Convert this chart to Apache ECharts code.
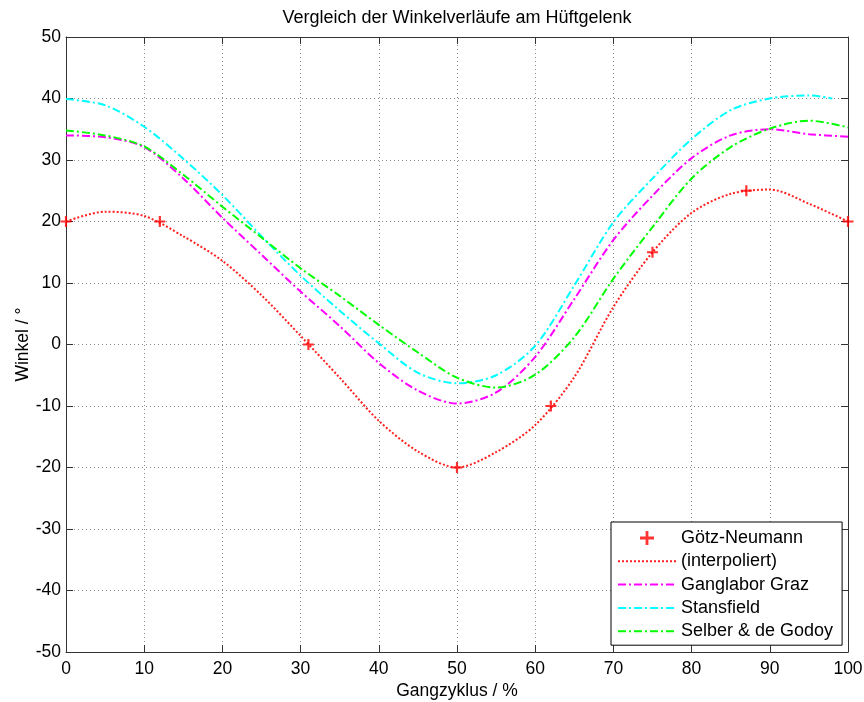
<!DOCTYPE html>
<html>
<head>
<meta charset="utf-8">
<script src="https://cdn.jsdelivr.net/npm/echarts@6/dist/echarts.min.js"></script>
<style>
  html, body { margin: 0; padding: 0; background: #fff; }
  #chart { width: 864px; height: 702px; }
</style>
</head>
<body>
<div id="chart"></div>
<script>
// Gait cycle positions (% of cycle) at which the curves are sampled
const gangzyklus = [0, 5, 10, 15, 20, 25, 30, 35, 40, 45, 50, 55, 60, 65, 70, 75, 80, 85, 90, 95, 100];
const stansfieldX = [0, 5, 10, 15, 20, 25, 30, 35, 40, 45, 50, 55, 60, 65, 70, 75, 80, 85, 90, 95, 98];

// Götz-Neumann reference points
const goetzX = [0, 12, 31, 50, 62, 75, 87, 100];
const goetzY = [20, 20, 0, -20, -10, 15, 25, 20];

// Interpolated Götz-Neumann curve
const interpoliert = [20, 21.6, 20.9, 17.6, 13.6, 8.0, 1.4, -5.4, -12.4, -17.4, -20, -17.5, -13.1, -5.3, 6.1, 15.0, 21.4, 24.5, 25.2, 22.9, 20];
// Ganglabor Graz
const graz = [34.0, 33.7, 32.1, 27.0, 20.6, 14.6, 8.6, 3.0, -3.0, -7.5, -9.6, -7.8, -2.0, 7.4, 17.0, 24.2, 30.3, 34.0, 35.0, 34.2, 33.8];
// Stansfield
const stansfield = [39.9, 38.9, 35.4, 30.2, 24.3, 17.6, 11.2, 5.5, 0.2, -4.6, -6.3, -5.0, -0.2, 9.6, 19.9, 27.0, 33.4, 38.1, 40.0, 40.5, 40.0];
// Selber & de Godoy
const selber = [34.8, 34.0, 32.2, 27.6, 22.4, 17.4, 12.4, 7.9, 3.2, -1.3, -5.4, -7.0, -4.9, 1.2, 10.7, 19.1, 27.0, 32.1, 35.1, 36.4, 35.3];

const FONT = "'Liberation Sans', Arial, Helvetica, sans-serif";
const zip = (xs, ys) => xs.map((x, i) => [x, ys[i]]);

const plusPath = 'path://M4,0H6V4H10V6H6V10H4V6H0V4H4Z';
const dashDot = [8, 3, 2, 3];
const SMOOTH = 0.3;

const axisCommon = {
  type: 'value',
  axisLine: { show: true, onZero: false, lineStyle: { color: '#333', width: 1 } },
  axisTick: { show: true, inside: true, length: 7, lineStyle: { color: '#333' } }
};
const gridLine = { show: true, lineStyle: { color: '#8a8a8a', width: 1, type: [1, 3] } };
const labelFont = { color: '#000', fontFamily: FONT, fontSize: 17.5 };

// legend entries for the curves show only the line, no marker
const lineOnly = { opacity: 0 };

const chart = echarts.init(document.getElementById('chart'), null, { renderer: 'canvas' });

chart.setOption({
  backgroundColor: '#fff',
  animation: false,
  textStyle: { fontFamily: FONT },
  graphic: [{
    type: 'text',
    x: 457, y: 18,
    style: {
      text: 'Vergleich der Winkelverläufe am Hüftgelenk',
      fontFamily: FONT, fontSize: 18, fill: '#000',
      align: 'center', verticalAlign: 'middle'
    }
  }],
  grid: { left: 66, right: 16, top: 37, bottom: 50, containLabel: false, outerBoundsMode: 'none' },
  xAxis: [
    Object.assign({}, axisCommon, {
      min: 0, max: 100, interval: 10, position: 'bottom',
      name: 'Gangzyklus / %', nameLocation: 'middle', nameGap: 30, nameMoveOverlap: false,
      nameTextStyle: labelFont,
      axisLabel: Object.assign({ margin: 8 }, labelFont),
      splitLine: gridLine
    }),
    Object.assign({}, axisCommon, {
      min: 0, max: 100, interval: 10, position: 'top',
      axisLabel: { show: false }, splitLine: { show: false }
    })
  ],
  yAxis: [
    Object.assign({}, axisCommon, {
      min: -50, max: 50, interval: 10, position: 'left',
      name: 'Winkel / °', nameLocation: 'middle', nameGap: 34, nameMoveOverlap: false,
      nameTextStyle: labelFont,
      axisLabel: Object.assign({ margin: 5 }, labelFont),
      splitLine: gridLine
    }),
    Object.assign({}, axisCommon, {
      min: -50, max: 50, interval: 10, position: 'right',
      axisLabel: { show: false }, splitLine: { show: false }
    })
  ],
  legend: {
    orient: 'vertical',
    left: 611, top: 522,
    itemWidth: 58, itemHeight: 14, itemGap: 5.3,
    padding: [7, 9, 5, 6],
    backgroundColor: '#fff',
    borderColor: '#000', borderWidth: 1, borderRadius: 0,
    textStyle: { fontFamily: FONT, fontSize: 18, color: '#000', lineHeight: 18 },
    symbolKeepAspect: true,
    data: [
      { name: 'Götz-Neumann', icon: plusPath },
      { name: '(interpoliert)', itemStyle: lineOnly },
      { name: 'Ganglabor Graz', itemStyle: lineOnly },
      { name: 'Stansfield', itemStyle: lineOnly },
      { name: 'Selber & de Godoy', itemStyle: lineOnly }
    ]
  },
  series: [
    {
      name: 'Götz-Neumann', type: 'scatter',
      data: zip(goetzX, goetzY),
      symbol: plusPath, symbolSize: 11, symbolKeepAspect: true,
      itemStyle: { color: '#ff0000' }, z: 3
    },
    {
      name: '(interpoliert)', type: 'line', smooth: SMOOTH, symbol: 'none',
      data: zip(gangzyklus, interpoliert),
      lineStyle: { color: '#ff2020', width: 2, type: [2, 2] },
      itemStyle: { color: '#ff2020' }, z: 2
    },
    {
      name: 'Ganglabor Graz', type: 'line', smooth: SMOOTH, symbol: 'none',
      data: zip(gangzyklus, graz),
      lineStyle: { color: '#ff00ff', width: 2, type: dashDot },
      itemStyle: { color: '#ff00ff' }, z: 4
    },
    {
      name: 'Stansfield', type: 'line', smooth: SMOOTH, symbol: 'none',
      data: zip(stansfieldX, stansfield),
      lineStyle: { color: '#00ffff', width: 2, type: dashDot },
      itemStyle: { color: '#00ffff' }, z: 5
    },
    {
      name: 'Selber & de Godoy', type: 'line', smooth: SMOOTH, symbol: 'none',
      data: zip(gangzyklus, selber),
      lineStyle: { color: '#00ff00', width: 2, type: dashDot },
      itemStyle: { color: '#00ff00' }, z: 6
    }
  ]
});
</script>
</body>
</html>
